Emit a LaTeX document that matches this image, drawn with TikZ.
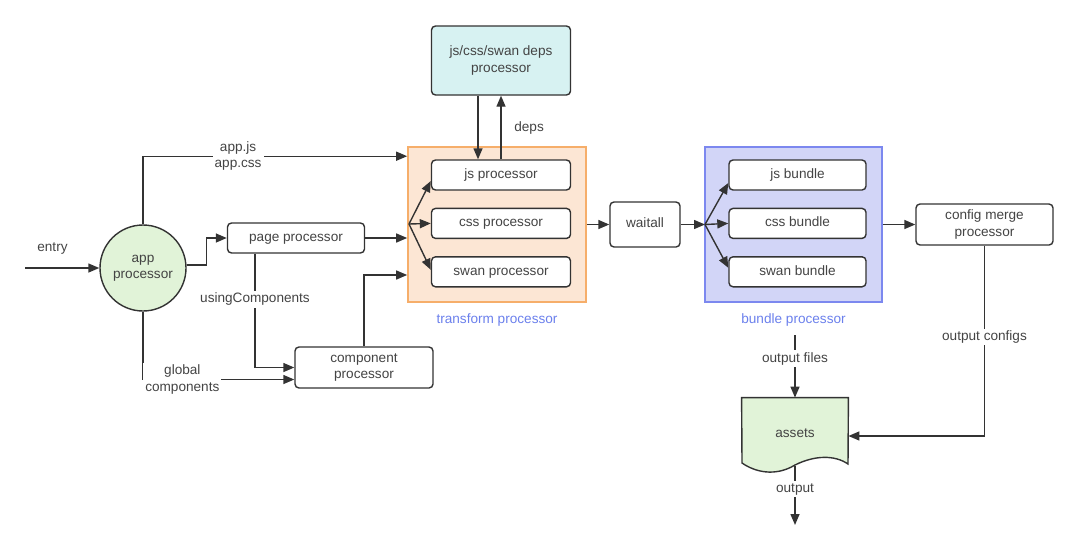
\documentclass[tikz,border=0pt]{standalone}
\usepackage{fontspec}
\setmainfont{Liberation Sans}
\usetikzlibrary{arrows.meta,positioning,calc}
\definecolor{linegray}{HTML}{333333}
\definecolor{txtgray}{HTML}{444444}
\definecolor{appgreen}{HTML}{E1F3D8}
\definecolor{tfill}{HTML}{FCE6D4}
\definecolor{tdraw}{HTML}{F6AE6A}
\definecolor{bfill}{HTML}{D2D5F7}
\definecolor{bdraw}{HTML}{7C88EF}
\definecolor{depsfill}{HTML}{D7F2F2}
\definecolor{lblblue}{HTML}{6B80EC}

\begin{document}
\begin{tikzpicture}[x=0.5pt, y=-0.5pt, font=\fontsize{6.8pt}{8.2pt}\selectfont, text=txtgray,
    proc/.style={draw=linegray, fill=white, rounded corners=2pt, line width=0.7pt, minimum width=69.5pt, minimum height=15pt, align=center, inner sep=1pt},
    grp/.style={line width=0.8pt, minimum height=77.5pt, inner sep=0pt},
    lblw/.style={fill=white, inner sep=1pt, align=center},
    arr/.style={-{Triangle[length=5.5pt,width=4.5pt]}, draw=linegray, line width=0.7pt}]
      \useasboundingbox (0,0) rectangle (1080,546);

      % left side
      \node (app) [circle, draw=linegray, fill=appgreen, line width=0.7pt, minimum size=43pt, align=center, inner sep=0pt] at (143,268) {app\\processor};
      \node (page) [proc, minimum width=68.5pt] at (296,238) {\strut page processor};
      \node (comp) [proc, minimum width=69pt, minimum height=20.5pt] at (364,367.5) {component\\processor};

      % transform group
      \node (tgrp) [grp, fill=tfill, draw=tdraw, minimum width=89pt] at (497,224.5) {};
      \node (jsp) [proc] at (501,175) {\strut js processor};
      \node (cssp) [proc, below=8.5pt of jsp] {\strut css processor};
      \node (swanp) [proc, below=8.5pt of cssp] {\strut swan processor};
      \node (tlbl) [below=4pt of tgrp, inner sep=1pt, text=lblblue] {transform processor};
      \node (deps) [proc, fill=depsfill, minimum height=34.5pt] at (501,60.5) {js/css/swan deps\\processor};
      \coordinate (tfan) at (409,224);

      \node (wait) [proc, minimum width=35pt, minimum height=22.5pt] at (645,224.5) {\strut waitall};

      % bundle group
      \node (bgrp) [grp, fill=bfill, draw=bdraw, minimum width=88.5pt] at (793.5,224.5) {};
      \node (jsb) [proc, minimum width=68.5pt] at (797.5,175) {\strut js bundle};
      \node (cssb) [proc, minimum width=68.5pt, below=8.5pt of jsb] {\strut css bundle};
      \node (swanb) [proc, minimum width=68.5pt, below=8.5pt of cssb] {\strut swan bundle};
      \node (blbl) [below=4pt of bgrp, inner sep=1pt, text=lblblue] {bundle processor};
      \coordinate (bfan) at (705,224.5);

      \node (cfg) [proc, minimum width=68.5pt, minimum height=20.5pt] at (984.5,224.5) {config merge\\processor};

      % assets document
      \node (assets) [minimum width=53pt, minimum height=36pt, inner sep=0pt] at (795,434) {};
      \draw[draw=linegray, fill=appgreen, line width=0.7pt] (assets.north west) -- (assets.north east) -- (848,464)
          .. controls (835,455) and (815,455) .. (795,465)
          .. controls (775,477) and (755,472) .. (742,463) -- cycle;
      \node (assetstxt) at (795,433) {assets};

      \coordinate (entry) at (25,268);
      \coordinate (ofstart) at (795,335);
      \coordinate (aout) at (795,466);
      \coordinate (outend) at (795,525);

      % connectors
      \draw[arr] (entry) -- node[above=3pt, pos=0.37] {entry} (app.west);
      \draw[arr] (app.north) |- node[lblw, pos=0.68] {app.js\\app.css} ($(tgrp.north west)+(0,10)$);
      \draw[arr] ([yshift=1.5pt]app.east) -- ++(20,0) |- (page.west);
      \draw[arr] (page.east) -- (page.east -| tgrp.west);
      \draw[arr] ($(page.south)+(-41,0)$) |- node[lblw, pos=0.2] {usingComponents} (comp.west);
      \draw[arr] (app.south) |- node[lblw, pos=0.63] {global\\components} ($(comp.west)+(0,12)$);
      \draw[arr] (comp.north) |- ($(tgrp.west)+(0,50.5)$);

      \draw[arr] (tfan) -- ([yshift=-3pt]jsp.west);
      \draw[arr] (tfan) -- (cssp.west);
      \draw[arr] (tfan) -- ([yshift=1pt]swanp.west);
      \draw[arr] ($(deps.south)+(-23,0)$) -- ($(jsp.north)+(-23,0)$);
      \draw[arr] (jsp.north) -- node[right=3pt] {deps} (deps.south);

      \draw[arr] (tgrp.east) -- (wait.west);
      \draw[arr] (wait.east) -- (bfan);
      \draw[arr] (bfan) -- ([yshift=-4pt]jsb.west);
      \draw[arr] (bfan) -- (cssb.west);
      \draw[arr] (bfan) -- ([yshift=2pt]swanb.west);
      \draw[arr] (bgrp.east) -- (cfg.west);

      \draw[arr] (cfg.south) |- node[lblw, pos=0.24] {output configs} ($(assets.east)+(0,2)$);
      \draw[arr] (ofstart) -- node[lblw, pos=0.38] {output files} (assets.north);
      \draw[arr] (aout) -- node[lblw, pos=0.39] {output} (outend);
  \end{tikzpicture}
\end{document}
